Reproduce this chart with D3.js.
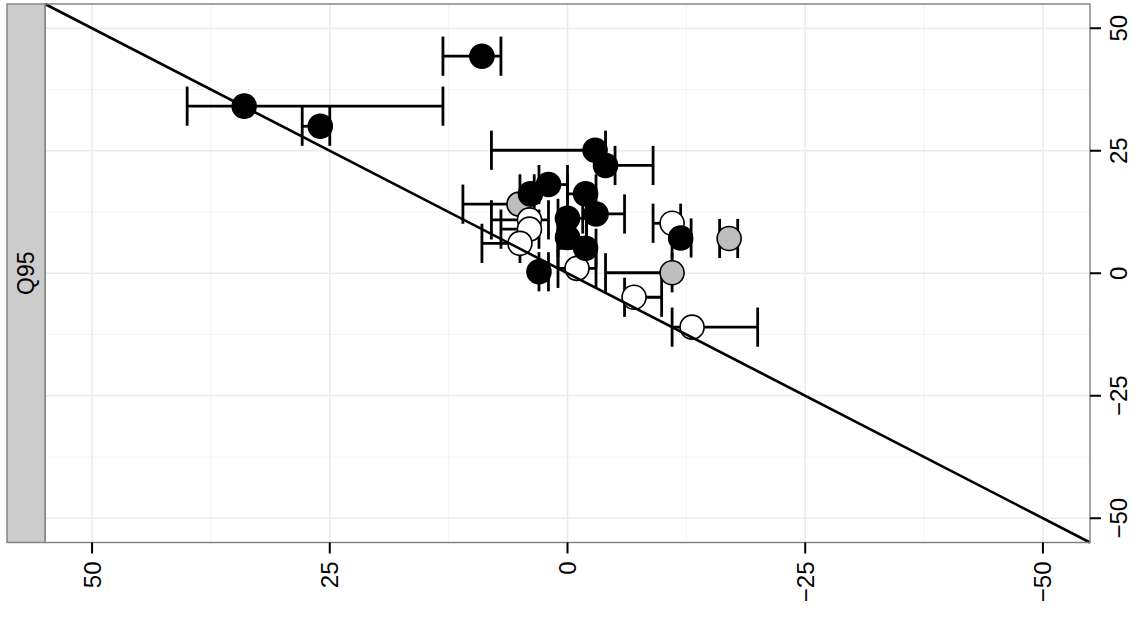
<!DOCTYPE html>
<html>
<head>
<meta charset="utf-8">
<script src="https://cdn.jsdelivr.net/npm/d3@7"></script>
<style>
  body { margin: 0; background: #fff; }
  text { font-family: "Liberation Sans", Arial, sans-serif; }
</style>
</head>
<body>
<svg id="chart" width="1135" height="623"></svg>
<script>
// ---- data ----
const majorTicks = [50, 25, 0, -25, -50];
const minorTicks = [37.5, 12.5, -12.5, -37.5];
const stripLabel = "Q95";

// drawn in this order: grey, then white, then black
const greyX  = [5.1, -11.0, -17.0];
const greyY  = [14.1, 0.1, 7.1];
const greyLo = [11.0, -4.0, -16.0];
const greyHi = [4.0, -11.0, -17.9];

const whiteX  = [-11.0, 4.0, 4.0, 5.0, -1.0, -7.0, -13.1];
const whiteY  = [10.2, 10.9, 9.0, 6.1, 1.0, -4.9, -11.0];
const whiteLo = [-9.0, 8.0, 7.0, 9.0, 1.0, -6.0, -11.0];
const whiteHi = [-11.9, 2.0, 3.0, 5.0, -3.0, -9.9, -20.0];

const blackX  = [9.0, 34.0, 26.0, -2.9, -4.0, 2.0, 3.9, -1.9, -3.0, 0.0, 0.0, -1.9, -11.9, 3.0];
const blackY  = [44.3, 34.1, 30.0, 25.1, 22.0, 18.1, 16.2, 16.2, 12.1, 11.2, 7.3, 5.1, 7.2, 0.3];
const blackLo = [13.1, 40.0, 27.9, 8.0, -5.0, 3.0, 5.0, 0.0, -1.6, 1.0, 1.0, 1.0, -11.0, 3.0];
const blackHi = [7.0, 13.1, 25.0, -4.0, -9.0, 0.0, 3.5, -3.0, -6.0, -2.0, -2.0, -3.0, -13.0, 2.0];

const fills = { grey: "#bebebe", white: "#ffffff", black: "#000000" };

function rows(xs, ys, lo, hi, g) {
  return xs.map((v, i) => ({ x: v, y: ys[i], lo: lo[i], hi: hi[i], g }));
}
const points = [].concat(
  rows(greyX, greyY, greyLo, greyHi, "grey"),
  rows(whiteX, whiteY, whiteLo, whiteHi, "white"),
  rows(blackX, blackY, blackLo, blackHi, "black")
);

// ---- layout ----
const svg = d3.select("#chart");
const panel = { left: 45, right: 1090, top: 4, bottom: 542.5 };
const strip = { left: 7, right: 45 };
const lim = 54.95;

// x axis runs reversed (positive on the left)
const x = d3.scaleLinear().domain([lim, -lim]).range([panel.left, panel.right]);
const y = d3.scaleLinear().domain([-lim, lim]).range([panel.bottom, panel.top]);

// panel background + grid
svg.append("rect")
  .attr("x", panel.left).attr("y", panel.top)
  .attr("width", panel.right - panel.left).attr("height", panel.bottom - panel.top)
  .attr("fill", "#fff");

const grid = svg.append("g");
minorTicks.forEach((t) => {
  grid.append("line").attr("x1", x(t)).attr("x2", x(t)).attr("y1", panel.top).attr("y2", panel.bottom)
    .attr("stroke", "#f5f5f5").attr("stroke-width", 1.2);
  grid.append("line").attr("y1", y(t)).attr("y2", y(t)).attr("x1", panel.left).attr("x2", panel.right)
    .attr("stroke", "#f5f5f5").attr("stroke-width", 1.2);
});
majorTicks.forEach((t) => {
  grid.append("line").attr("x1", x(t)).attr("x2", x(t)).attr("y1", panel.top).attr("y2", panel.bottom)
    .attr("stroke", "#ebebeb").attr("stroke-width", 1.5);
  grid.append("line").attr("y1", y(t)).attr("y2", y(t)).attr("x1", panel.left).attr("x2", panel.right)
    .attr("stroke", "#ebebeb").attr("stroke-width", 1.5);
});

// error bars
const capHalf = 4; // in y units
const bars = svg.append("g").attr("stroke", "#000").attr("stroke-width", 2.8).attr("fill", "none");
points.forEach((d) => {
  bars.append("line").attr("x1", x(d.lo)).attr("x2", x(d.hi)).attr("y1", y(d.y)).attr("y2", y(d.y));
  [d.lo, d.hi].forEach((v) => {
    bars.append("line").attr("x1", x(v)).attr("x2", x(v))
      .attr("y1", y(d.y + capHalf)).attr("y2", y(d.y - capHalf));
  });
});

// points
svg.append("g").selectAll("circle").data(points).join("circle")
  .attr("cx", (d) => x(d.x)).attr("cy", (d) => y(d.y)).attr("r", 12)
  .attr("fill", (d) => fills[d.g]).attr("stroke", "#000").attr("stroke-width", 1.6);

// identity line y = x, corner to corner
svg.append("line")
  .attr("x1", x(lim)).attr("y1", y(lim)).attr("x2", x(-lim)).attr("y2", y(-lim))
  .attr("stroke", "#000").attr("stroke-width", 2.6);

// panel border
svg.append("rect")
  .attr("x", panel.left).attr("y", panel.top)
  .attr("width", panel.right - panel.left).attr("height", panel.bottom - panel.top)
  .attr("fill", "none").attr("stroke", "#7f7f7f").attr("stroke-width", 1.4);

// strip on the left
svg.append("rect")
  .attr("x", strip.left).attr("y", panel.top)
  .attr("width", strip.right - strip.left).attr("height", panel.bottom - panel.top)
  .attr("fill", "#cccccc").attr("stroke", "#7f7f7f").attr("stroke-width", 1.4);
const sx = (strip.left + strip.right) / 2, sy = (panel.top + panel.bottom) / 2;
svg.append("text")
  .attr("transform", `translate(${sx},${sy}) rotate(-90)`)
  .attr("text-anchor", "middle").attr("dominant-baseline", "central")
  .attr("font-size", 23).attr("fill", "#000").text(stripLabel);

// bottom axis
const fmt = (t) => (t < 0 ? "\u2212" + Math.abs(t) : String(t));
const bx = svg.append("g");
majorTicks.forEach((t) => {
  bx.append("line").attr("x1", x(t)).attr("x2", x(t)).attr("y1", panel.bottom).attr("y2", panel.bottom + 11)
    .attr("stroke", "#000").attr("stroke-width", 2);
  bx.append("text")
    .attr("transform", `translate(${x(t)},${panel.bottom + 19}) rotate(-90)`)
    .attr("text-anchor", "end").attr("dominant-baseline", "central")
    .attr("font-size", 24).attr("fill", "#000").text(fmt(t));
});

// right axis
const ry = svg.append("g");
majorTicks.forEach((t) => {
  ry.append("line").attr("y1", y(t)).attr("y2", y(t)).attr("x1", panel.right).attr("x2", panel.right + 11)
    .attr("stroke", "#000").attr("stroke-width", 2);
  ry.append("text")
    .attr("transform", `translate(${panel.right + 28},${y(t)}) rotate(-90)`)
    .attr("text-anchor", "middle").attr("dominant-baseline", "central")
    .attr("font-size", 24).attr("fill", "#000").text(fmt(t));
});
</script>
</body>
</html>
